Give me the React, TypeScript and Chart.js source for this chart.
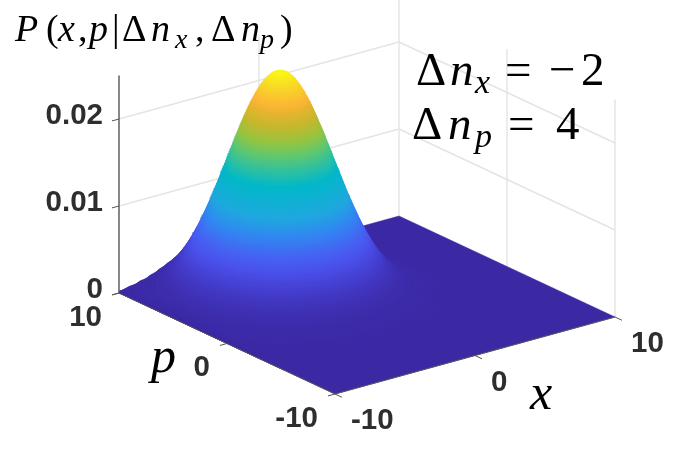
import React, { useEffect, useRef } from "react";
import { Chart, registerables } from "chart.js";

Chart.register(...registerables);

// Axis ticks of the three dimensions
const xTicks = [-10, 0, 10];
const pTicks = [-10, 0, 10];
const zTicks = [0, 0.01, 0.02];
const zTop = 0.025;

// Hump
const peakHeight = 0.026;
const peakX = -3.1;
const peakP = 4;
const spread = 3.03;
const levelShares = [
  0.0005, 0.0008, 0.001, 0.0015, 0.002, 0.003, 0.004, 0.005, 0.006, 0.007, 0.008, 0.01, 0.012, 0.014, 0.016, 0.018,
  0.02, 0.0225, 0.025, 0.0275, 0.03, 0.035, 0.04, 0.045, 0.05, 0.055, 0.06, 0.065, 0.07, 0.075, 0.08, 0.09, 0.1, 0.11,
  0.12, 0.13, 0.14, 0.15, 0.16, 0.17, 0.18, 0.19, 0.2, 0.21, 0.22, 0.23, 0.24, 0.25, 0.26, 0.27, 0.28, 0.29, 0.3,
  0.31, 0.32, 0.33, 0.34, 0.35, 0.36, 0.37, 0.38, 0.39, 0.4, 0.41, 0.42, 0.43, 0.44, 0.45, 0.46, 0.47, 0.48, 0.49,
  0.5, 0.51, 0.52, 0.53, 0.54, 0.55, 0.56, 0.57, 0.58, 0.59, 0.6, 0.61, 0.62, 0.63, 0.64, 0.65, 0.66, 0.67, 0.68,
  0.69, 0.7, 0.71, 0.72, 0.73, 0.74, 0.75, 0.76, 0.77, 0.78, 0.79, 0.8, 0.81, 0.82, 0.83, 0.84, 0.85, 0.86, 0.87,
  0.88, 0.89, 0.9, 0.91, 0.92, 0.93, 0.94, 0.95, 0.96, 0.97, 0.98, 0.99,
];
const levelRadii = [
  3.899, 3.777, 3.717, 3.606, 3.526, 3.408, 3.323, 3.255, 3.199, 3.15, 3.108, 3.035, 2.974, 2.922, 2.876, 2.835,
  2.797, 2.754, 2.716, 2.681, 2.648, 2.589, 2.537, 2.49, 2.448, 2.408, 2.372, 2.338, 2.306, 2.276, 2.248, 2.195,
  2.146, 2.101, 2.059, 2.02, 1.983, 1.948, 1.914, 1.883, 1.852, 1.822, 1.794, 1.767, 1.74, 1.714, 1.689, 1.665,
  1.641, 1.618, 1.596, 1.573, 1.552, 1.53, 1.51, 1.489, 1.469, 1.449, 1.429, 1.41, 1.391, 1.372, 1.354, 1.335, 1.317,
  1.299, 1.281, 1.263, 1.246, 1.229, 1.212, 1.194, 1.177, 1.16, 1.144, 1.127, 1.11, 1.094, 1.077, 1.06, 1.044, 1.027,
  1.011, 0.994, 0.978, 0.961, 0.945, 0.928, 0.912, 0.895, 0.878, 0.861, 0.845, 0.828, 0.811, 0.793, 0.776, 0.758,
  0.741, 0.723, 0.705, 0.687, 0.668, 0.649, 0.63, 0.611, 0.591, 0.57, 0.549, 0.528, 0.506, 0.483, 0.459, 0.434, 0.408,
  0.381, 0.352, 0.32, 0.286, 0.247, 0.201, 0.142,
];
const colorShares = [0, 0.05, 0.1, 0.15, 0.2, 0.25, 0.3, 0.37, 0.45, 0.57, 0.63, 0.69, 0.74, 0.8, 0.85, 0.88, 0.94, 1];
const colorHexes = [
  "#3b29a4", "#3c2ba8", "#3e30b2", "#4238c4", "#4644d8", "#4a52ec", "#4563f2", "#3384f2", "#1ea8de", "#02b8c8",
  "#30c0a0", "#62c86c", "#95c440", "#c4b82e", "#e5b42f", "#fcb535", "#f8d428", "#f9fb15",
];

// View of the box on the page
const cornerPx = { x: 335, y: 394 };
const xStep = { x: 14, y: -3.85 };
const pStep = { x: -10.8, y: -5.05 };
const zPx = 8700;
const baseY = 293;
const W = 691;
const H = 459;

const project = (x: number, p: number, z: number) => {
  const a = x + 10;
  const b = p + 10;
  const sx = cornerPx.x + a * xStep.x + b * pStep.x;
  const sy = cornerPx.y + a * xStep.y + b * pStep.y;
  return { x: sx, y: z + (baseY - sy) / zPx };
};

const hexRgb = (h: string) => [1, 3, 5].map((i) => parseInt(h.slice(i, i + 2), 16));
const colorFor = (s: number) => {
  let i = 0;
  while (i < colorShares.length - 2 && s > colorShares[i + 1]) i++;
  const t = (s - colorShares[i]) / (colorShares[i + 1] - colorShares[i]);
  const a = hexRgb(colorHexes[i]);
  const b = hexRgb(colorHexes[i + 1]);
  return `rgb(${a.map((v, k) => Math.round(v + (b[k] - v) * t)).join(",")})`;
};
const clamp = (v: number) => Math.max(-10, Math.min(10, v));

const line = (pts: { x: number; y: number }[], color: string, width: number, extra: any = {}) => ({
  data: pts,
  showLine: true,
  borderColor: color,
  borderWidth: width,
  pointRadius: 0,
  fill: false,
  clip: false as any,
  ...extra,
});

type Run = { t: string; i?: boolean; sub?: boolean; at?: number };
const mathFont = '"Liberation Serif"';

const drawMath = (ctx: CanvasRenderingContext2D, runs: Run[], baseline: number, size: number, subSize: number, subDrop: number) => {
  let x = 0;
  for (const r of runs) {
    if (r.at !== undefined) x = r.at;
    const s = r.sub ? subSize : size;
    ctx.font = `${r.i ? "italic " : ""}${s}px ${mathFont}`;
    ctx.fillText(r.t, x, baseline + (r.sub ? subDrop : 0));
    x += ctx.measureText(r.t).width;
  }
};

const annotations = {
  id: "annotations",
  afterDatasetsDraw(chart: any) {
    const { ctx, scales } = chart;
    const px = (pt: { x: number; y: number }) => ({
      x: scales.x.getPixelForValue(pt.x),
      y: scales.y.getPixelForValue(pt.y),
    });
    ctx.save();
    ctx.textBaseline = "middle";
    ctx.fillStyle = "#2e2e2e";
    ctx.font = 'bold 29.5px "Liberation Sans"';
    ctx.textAlign = "right";
    for (const p of pTicks) {
      const q = px(project(-10, p, 0));
      ctx.fillText(String(p), q.x - 17, q.y + 24.5);
    }
    ctx.textAlign = "left";
    for (const x of xTicks) {
      const q = px(project(x, -10, 0));
      ctx.fillText(String(x), q.x + 16, q.y + 27);
    }
    ctx.textBaseline = "alphabetic";
    ctx.fillStyle = "#000000";
    drawMath(
      ctx,
      [
        { t: "P", i: true, at: 15 },
        { t: "(", at: 46 },
        { t: "x", i: true, at: 58 },
        { t: ",", at: 78 },
        { t: "p", i: true, at: 89 },
        { t: "|", at: 112 },
        { t: "Δ", at: 122 },
        { t: "n", i: true, at: 151 },
        { t: "x", i: true, sub: true, at: 175 },
        { t: ",", at: 195 },
        { t: "Δ", at: 211 },
        { t: "n", i: true, at: 241 },
        { t: "p", i: true, sub: true, at: 260 },
        { t: ")", at: 280 },
      ],
      41, 38, 28, 7,
    );
    drawMath(
      ctx,
      [
        { t: "Δ", at: 416 },
        { t: "n", i: true, at: 450 },
        { t: "x", i: true, sub: true, at: 475 },
        { t: "=", at: 505 },
        { t: "−", at: 549 },
        { t: "2", at: 581 },
      ],
      85, 47, 34, 8,
    );
    drawMath(
      ctx,
      [
        { t: "Δ", at: 412 },
        { t: "n", i: true, at: 448 },
        { t: "p", i: true, sub: true, at: 475 },
        { t: "=", at: 508 },
        { t: "4", at: 556 },
      ],
      139, 47, 34, 8,
    );
    ctx.font = `italic 50px ${mathFont}`;
    ctx.fillText("p", 151, 372);
    ctx.fillText("x", 530, 409);
    ctx.restore();
  },
};

export default function App() {
  const ref = useRef<HTMLCanvasElement>(null);

  useEffect(() => {
    document.body.style.margin = "0";
    const painted: any[] = [];
    const grid = "#e4e4e4";
    const axis = "#555555";

    // back walls
    for (const z of zTicks.slice(1)) {
      painted.push(line([project(-10, 10, z), project(10, 10, z)], grid, 1.4));
      painted.push(line([project(10, 10, z), project(10, -10, z)], grid, 1.4));
    }
    for (const x of xTicks.slice(1)) painted.push(line([project(x, 10, 0), project(x, 10, zTop)], grid, 1.4));
    for (const p of pTicks.slice(0, 2)) painted.push(line([project(10, p, 0), project(10, p, zTop)], grid, 1.4));

    // floor
    const floorColor = colorFor(0);
    painted.push(
      line(
        [project(-10, -10, 0), project(10, -10, 0), project(10, 10, 0), project(-10, 10, 0), project(-10, -10, 0)],
        floorColor,
        0.5,
        { fill: "shape", backgroundColor: floorColor },
      ),
    );

    // hump, lowest level first
    levelShares.forEach((share, i) => {
      const r = levelRadii[i] * spread;
      const z = share * peakHeight;
      const pts = [];
      for (let k = 0; k <= 90; k++) {
        const t = (k / 90) * 2 * Math.PI;
        pts.push(project(clamp(peakX + r * Math.cos(t)), clamp(peakP + r * Math.sin(t)), z));
      }
      const c = colorFor(share);
      painted.push(line(pts, c, 0.6, { fill: "shape", backgroundColor: c }));
    });

    // axes and tick marks
    painted.push(line([project(-10, 10, 0), project(-10, 10, zTop)], axis, 1.4));
    painted.push(line([project(-10, 10, 0), project(-10, -10, 0)], axis, 1));
    painted.push(line([project(-10, -10, 0), project(10, -10, 0)], axis, 1));
    for (const z of zTicks) painted.push(line([project(-10, 10, z), project(-10.5, 10, z)], axis, 1));
    for (const p of pTicks) painted.push(line([project(-10, p, 0), project(-10.5, p, 0)], axis, 1));
    for (const x of xTicks) painted.push(line([project(x, -10, 0), project(x, -10.65, 0)], axis, 1));

    const chart = new Chart(ref.current as HTMLCanvasElement, {
      type: "scatter",
      data: { datasets: painted.reverse() },
      plugins: [annotations as any],
      options: {
        animation: false,
        responsive: false,
        layout: { padding: 0 },
        plugins: { legend: { display: false }, tooltip: { enabled: false } },
        scales: {
          x: { type: "linear", display: false, min: 119, max: W },
          y: {
            type: "linear",
            min: (baseY - H) / zPx,
            max: baseY / zPx,
            grid: { display: false, drawTicks: false },
            border: { display: false },
            afterFit: (s: any) => {
              s.width = 119;
              s.paddingTop = 0;
              s.paddingBottom = 0;
            },
            afterBuildTicks: (s: any) => {
              s.ticks = zTicks.map((value) => ({ value }));
            },
            ticks: {
              padding: 16,
              labelOffset: -3.5,
              color: "#2e2e2e",
              font: { family: '"Liberation Sans"', weight: "bold", size: 29.5 },
              callback: (v: any) => String(v),
            },
          },
        },
      } as any,
    });
    return () => chart.destroy();
  }, []);

  return <canvas ref={ref} width={W} height={H} style={{ display: "block", width: W, height: H, filter: "blur(0.45px)" }} />;
}
